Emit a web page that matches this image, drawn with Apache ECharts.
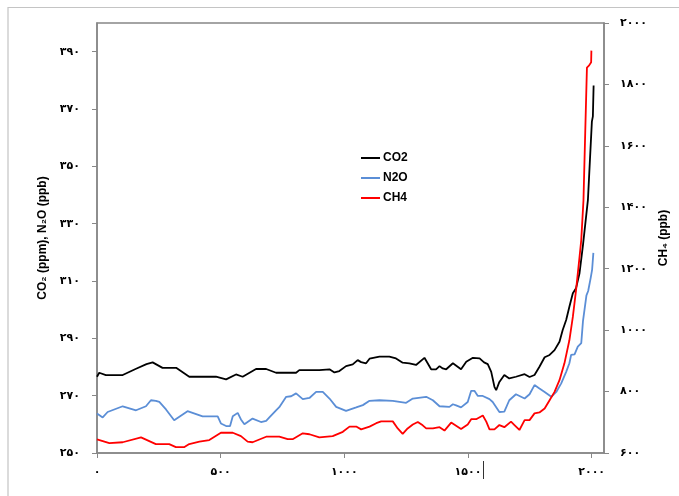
<!DOCTYPE html>
<html>
<head>
<meta charset="utf-8">
<script src="https://cdn.jsdelivr.net/npm/echarts@6/dist/echarts.min.js"></script>
<style>
  html, body { margin: 0; padding: 0; background: #fff; }
  #chart { width: 679px; height: 496px; }
</style>
</head>
<body>
<div id="chart"></div>
<script>
// Atmospheric CO2, N2O and CH4 over the last two millennia
const co2Years = [0, 9, 36, 104, 158, 200, 225, 265, 320, 373, 481, 522, 562, 589, 643, 684, 724, 805, 818, 899, 940, 960, 980, 1007, 1034, 1054, 1068, 1088, 1102, 1142, 1182, 1209, 1236, 1263, 1290, 1324, 1337, 1351, 1371, 1385, 1398, 1412, 1439, 1472, 1493, 1520, 1547, 1565, 1580, 1594, 1607, 1614, 1627, 1647, 1667, 1694, 1729, 1749, 1769, 1789, 1810, 1830, 1850, 1870, 1883, 1897, 1910, 1924, 1937, 1951, 1965, 1985, 2001, 2005, 2008];
const co2Values = [276.6, 278.0, 277.2, 277.2, 279.4, 281.0, 281.6, 279.7, 279.7, 276.6, 276.6, 275.7, 277.4, 276.6, 279.3, 279.3, 278.0, 278.0, 278.9, 278.9, 279.2, 278.1, 278.6, 280.3, 280.9, 282.4, 281.7, 281.3, 282.9, 283.6, 283.6, 283.0, 281.5, 281.3, 280.7, 283.2, 281.3, 279.2, 279.2, 280.3, 279.5, 279.2, 281.3, 279.2, 281.8, 283.2, 283.0, 281.6, 281.0, 278.3, 273.1, 271.9, 274.8, 277.2, 276.0, 276.6, 277.5, 276.5, 277.2, 280.1, 283.4, 284.2, 285.9, 288.8, 292.9, 296.4, 301.0, 305.7, 307.5, 312.7, 322.5, 338.3, 365.6, 367.4, 378.2];

const n2oYears = [0, 23, 43, 104, 158, 198, 218, 238, 252, 279, 312, 366, 427, 488, 501, 522, 538, 549, 569, 582, 596, 629, 663, 684, 697, 724, 737, 765, 785, 805, 832, 859, 886, 913, 940, 967, 1007, 1048, 1075, 1102, 1142, 1196, 1250, 1277, 1331, 1358, 1385, 1425, 1439, 1452, 1472, 1499, 1513, 1526, 1540, 1560, 1587, 1600, 1627, 1647, 1667, 1694, 1729, 1749, 1769, 1789, 1810, 1837, 1857, 1877, 1897, 1910, 1917, 1931, 1944, 1958, 1965, 1979, 1986, 1996, 2002, 2007];
const n2oValues = [263.8, 262.4, 264.3, 266.3, 264.9, 266.3, 268.4, 268.2, 267.8, 265.2, 261.4, 264.6, 262.8, 262.8, 260.3, 259.4, 259.4, 262.8, 264.0, 261.7, 260.0, 262.0, 260.8, 261.2, 262.4, 264.9, 266.0, 269.6, 269.8, 270.8, 268.8, 269.2, 271.3, 271.3, 269.0, 266.1, 264.7, 265.9, 266.7, 268.2, 268.4, 268.2, 267.5, 269.0, 269.6, 268.4, 266.3, 266.1, 267.0, 266.6, 265.9, 267.8, 271.7, 271.7, 269.9, 269.9, 268.8, 267.8, 264.3, 264.4, 268.4, 270.5, 269.0, 270.5, 273.7, 272.5, 271.3, 269.6, 271.3, 274.3, 278.3, 281.3, 284.2, 284.4, 287.1, 288.3, 296.0, 305.0, 306.5, 311.0, 314.0, 319.8];

const ch4Years = [0, 50, 104, 178, 238, 292, 319, 352, 373, 414, 454, 501, 549, 582, 609, 629, 684, 737, 771, 791, 832, 859, 899, 953, 994, 1021, 1048, 1068, 1102, 1129, 1149, 1196, 1216, 1236, 1256, 1277, 1297, 1317, 1331, 1358, 1385, 1405, 1432, 1472, 1499, 1513, 1533, 1560, 1574, 1587, 1607, 1627, 1647, 1674, 1688, 1708, 1729, 1749, 1769, 1789, 1810, 1830, 1850, 1870, 1890, 1910, 1924, 1937, 1951, 1958, 1967, 1974, 1981, 1990, 1998, 1999];
const ch4Values = [644, 632, 635, 651, 629, 629, 619, 619, 629, 637, 642, 666, 666, 655, 637, 635, 653, 653, 645, 645, 664, 661, 651, 655, 669, 686, 686, 677, 686, 697, 703, 703, 680, 662, 680, 693, 701, 690, 680, 680, 684, 673, 699, 678, 693, 710, 710, 722, 702, 677, 677, 691, 684, 702, 691, 675, 707, 707, 729, 732, 745, 772, 799, 837, 892, 967, 1043, 1130, 1238, 1293, 1423, 1641, 1855, 1862, 1872, 1910];

// Tick positions and their Persian-digit labels
const xTicks = [0, 500, 1000, 1500, 2000];
const xTickLabels = ['۰', '۵۰۰', '۱۰۰۰', '۱۵۰۰', '۲۰۰۰'];
const leftTicks = [250, 270, 290, 310, 330, 350, 370, 390];
const leftTickLabels = ['۲۵۰', '۲۷۰', '۲۹۰', '۳۱۰', '۳۳۰', '۳۵۰', '۳۷۰', '۳۹۰'];
const rightTicks = [600, 800, 1000, 1200, 1400, 1600, 1800, 2000];
const rightTickLabels = ['۶۰۰', '۸۰۰', '۱۰۰۰', '۱۲۰۰', '۱۴۰۰', '۱۶۰۰', '۱۸۰۰', '۲۰۰۰'];

const seriesNames = ['CO2', 'N2O', 'CH4'];
const seriesColors = ['#000000', '#5b8ed6', '#ff0000'];

const zip = (xs, ys) => xs.map((x, i) => [x, ys[i]]);
const labelFor = (ticks, labels) => v => {
  const i = ticks.indexOf(v);
  return i >= 0 ? labels[i] : '';
};

const axisColor = '#878787';
const tickFont = { fontFamily: 'DejaVu Sans', fontWeight: 'bold', fontSize: 11, color: '#000' };
const nameFont = { fontFamily: 'Liberation Sans', fontWeight: 'bold', fontSize: 12, color: '#000' };

const chart = echarts.init(document.getElementById('chart'), null, { renderer: 'canvas' });
chart.setOption({
  backgroundColor: '#ffffff',
  animation: false,
  grid: { left: 97, right: 75, top: 23, bottom: 43, show: true, borderColor: axisColor, borderWidth: 1.5, containLabel: false },
  legend: {
    orient: 'vertical', left: 356, top: 147,
    icon: 'rect', itemWidth: 19, itemHeight: 2, itemGap: 8,
    textStyle: { fontFamily: 'Liberation Sans', fontWeight: 'bold', fontSize: 12, color: '#000', padding: [0, 0, 0, -2] },
    data: seriesNames
  },
  xAxis: {
    type: 'value', min: 0, max: 2050,
    axisLine: { show: true, lineStyle: { color: axisColor, width: 1.5 } },
    axisTick: { show: true, length: 5, customValues: xTicks, lineStyle: { color: axisColor } },
    axisLabel: Object.assign({ margin: 14, customValues: xTicks, formatter: labelFor(xTicks, xTickLabels) }, tickFont),
    splitLine: { show: false }
  },
  yAxis: [
    {
      type: 'value', min: 250, max: 400, position: 'left',
      name: 'CO₂ (ppm), N₂O (ppb)', nameLocation: 'middle', nameRotate: 90, nameGap: 42,
      nameTextStyle: nameFont,
      axisLine: { show: true, lineStyle: { color: axisColor, width: 1.5 } },
      axisTick: { show: true, length: 5, customValues: leftTicks, lineStyle: { color: axisColor } },
      axisLabel: Object.assign({ margin: 17, customValues: leftTicks, formatter: labelFor(leftTicks, leftTickLabels) }, tickFont),
      splitLine: { show: false }
    },
    {
      type: 'value', min: 600, max: 2000, interval: 200, position: 'right',
      name: 'CH₄ (ppb)', nameLocation: 'middle', nameRotate: 90, nameGap: 51,
      nameTextStyle: nameFont,
      axisLine: { show: true, lineStyle: { color: axisColor, width: 1.5 } },
      axisTick: { show: true, length: 5, lineStyle: { color: axisColor } },
      axisLabel: Object.assign({ margin: 16, formatter: labelFor(rightTicks, rightTickLabels) }, tickFont),
      splitLine: { show: false }
    }
  ],
  graphic: [
    // page frame
    { type: 'polyline', silent: true, shape: { points: [[8, 496], [8, 7.5], [679, 7.5]] }, style: { stroke: '#c4c4c4', lineWidth: 1.2, fill: null } },
    { type: 'line', silent: true, shape: { x1: 483.5, y1: 461, x2: 483.5, y2: 479 }, style: { stroke: '#333', lineWidth: 1 } }
  ],
  series: [
    { name: seriesNames[0], type: 'line', yAxisIndex: 0, showSymbol: false, data: zip(co2Years, co2Values), lineStyle: { color: seriesColors[0], width: 1.8 }, itemStyle: { color: seriesColors[0] } },
    { name: seriesNames[1], type: 'line', yAxisIndex: 0, showSymbol: false, data: zip(n2oYears, n2oValues), lineStyle: { color: seriesColors[1], width: 1.8 }, itemStyle: { color: seriesColors[1] } },
    { name: seriesNames[2], type: 'line', yAxisIndex: 1, showSymbol: false, data: zip(ch4Years, ch4Values), lineStyle: { color: seriesColors[2], width: 1.8 }, itemStyle: { color: seriesColors[2] } }
  ]
});
</script>
</body>
</html>
